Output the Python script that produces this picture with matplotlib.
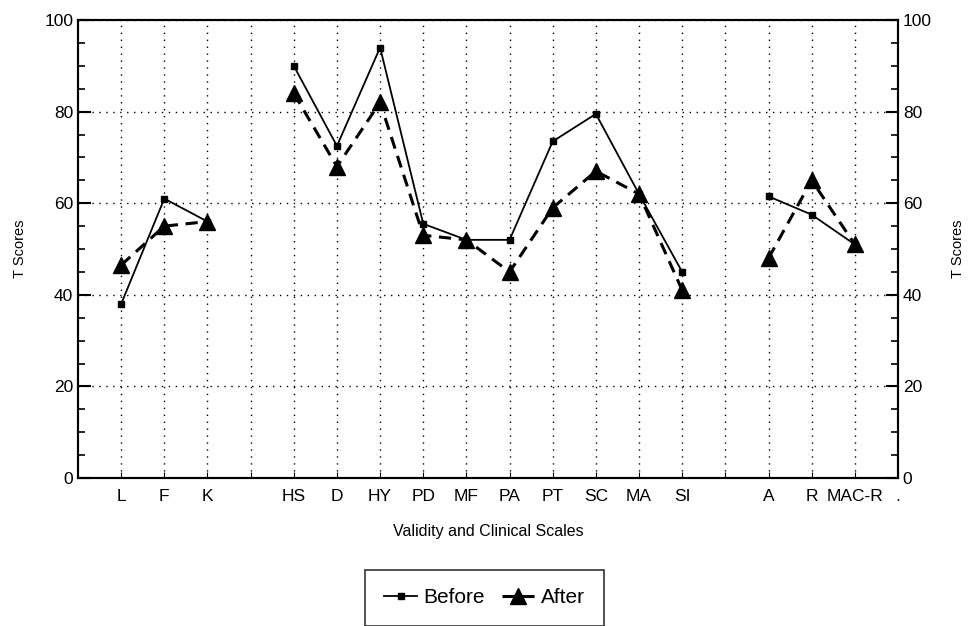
import matplotlib
matplotlib.use("Agg")
import matplotlib.pyplot as plt
from matplotlib.ticker import MultipleLocator

plt.rcParams['font.family'] = ['Liberation Sans', 'DejaVu Sans']

# escalas (las posiciones vacias separan los grupos)
escalas = ['L', 'F', 'K', '', 'HS', 'D', 'HY', 'PD', 'MF', 'PA', 'PT', 'SC', 'MA', 'SI', '', 'A', 'R', 'MAC-R', '.']

grupo_validez = ['L', 'F', 'K']
antes_validez = [38, 61, 56]
despues_validez = [46.5, 55, 56]

grupo_clinico = ['HS', 'D', 'HY', 'PD', 'MF', 'PA', 'PT', 'SC', 'MA', 'SI']
antes_clinico = [90, 72.5, 94, 55.5, 52, 52, 73.5, 79.5, 62, 45]
despues_clinico = [84, 68, 82, 53, 52, 45, 59, 67, 62, 41]

grupo_extra = ['A', 'R', 'MAC-R']
antes_extra = [61.5, 57.5, 51]
despues_extra = [48, 65, 51]

pos = {e: i + 1 for i, e in enumerate(escalas) if e}

fig = plt.figure(figsize=(9.69, 6.26), dpi=100)
ax = fig.add_axes([0.0805, 0.2364, 0.8462, 0.7316])

primero = True
for grupo, antes, despues in [(grupo_validez, antes_validez, despues_validez),
                              (grupo_clinico, antes_clinico, despues_clinico),
                              (grupo_extra, antes_extra, despues_extra)]:
    xs = [pos[g] for g in grupo]
    ax.plot(xs, antes, color='black', lw=1.3, marker='s', markersize=4,
            label='Before' if primero else None, zorder=3)
    ax.plot(xs, despues, color='black', lw=2.2, ls=(0, (4, 2.5)), marker='^',
            markersize=12, label='After' if primero else None, zorder=4)
    primero = False

ax.set_xlim(0, len(escalas))
ax.set_ylim(0, 100)
ax.set_xticks(range(1, len(escalas) + 1))
ax.set_xticklabels(escalas, fontsize=12.5)
ax.tick_params(axis='x', direction='in', length=4, pad=8)

# eje derecho con las mismas marcas
ax2 = ax.twinx()
ax2.set_ylim(0, 100)
for eje in (ax, ax2):
    eje.yaxis.set_major_locator(MultipleLocator(20))
    eje.yaxis.set_minor_locator(MultipleLocator(5))
    eje.tick_params(axis='y', which='major', direction='in', length=9, width=1.5,
                    labelsize=12.5)
    eje.tick_params(axis='y', which='minor', direction='in', length=5, width=1.2)

ax.grid(True, which='major', ls=(0, (1, 4)), color='black', lw=1)
for s in ax.spines.values():
    s.set_linewidth(1.5)
for s in ax2.spines.values():
    s.set_linewidth(1.5)

ax.set_xlabel('Validity and Clinical Scales', fontsize=11.5, labelpad=14)
ax.set_ylabel('T Scores', fontsize=10.5, labelpad=12)
ax2.set_ylabel('T Scores', fontsize=10.5, labelpad=14)

leg = ax.legend(loc='center', bbox_to_anchor=(0.5, 0.045), bbox_transform=fig.transFigure,
                ncol=2, fontsize=15, frameon=True, fancybox=False, edgecolor='black',
                handlelength=1.6, handletextpad=0.3, columnspacing=0.8,
                borderpad=0.9)
leg.get_frame().set_linewidth(1.2)

fig.savefig('out.png', dpi=100)
